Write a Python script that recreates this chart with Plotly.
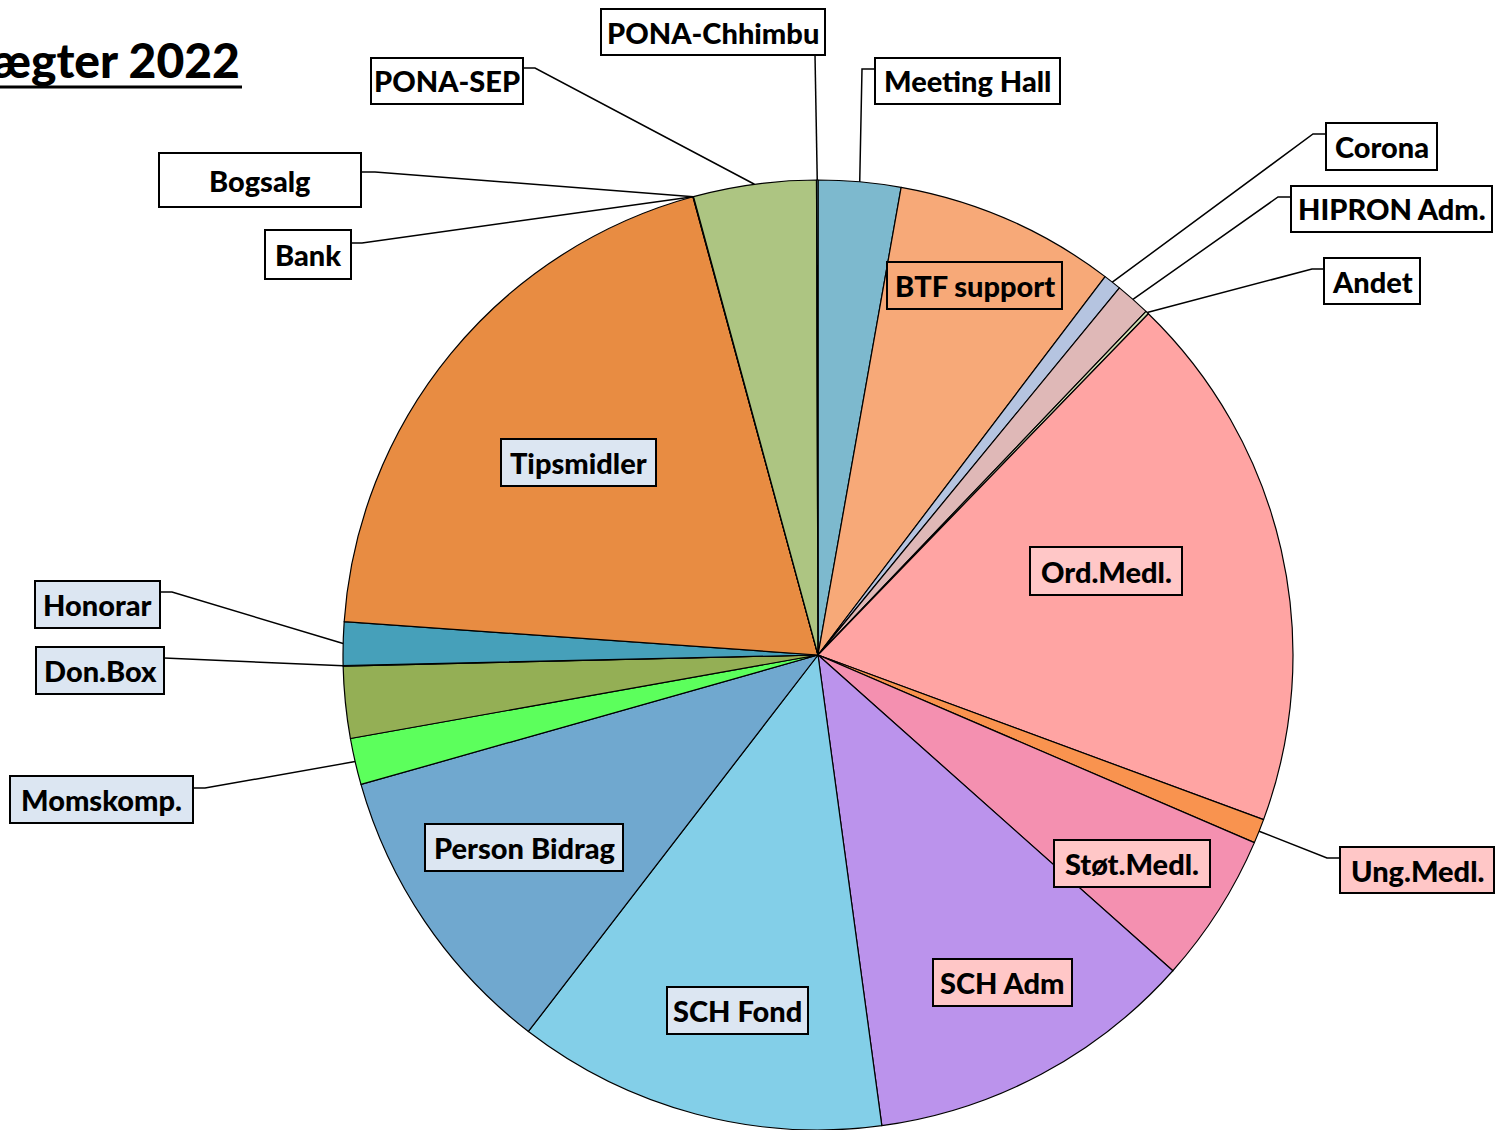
import math
import plotly.graph_objects as go

# ---------------- data ----------------
labels = ["Meeting Hall", "BTF support", "Corona", "HIPRON Adm.", "Andet",
          "Ord.Medl.", "Ung.Medl.", "Støt.Medl.", "SCH Adm", "SCH Fond",
          "Person Bidrag", "Momskomp.", "Uden etiket", "Don.Box", "Honorar",
          "Tipsmidler", "Bank", "Bogsalg", "PONA-SEP", "PONA-Chhimbu"]
values = [2.80, 7.53, 0.61, 1.19, 0.11,
          18.39, 0.83, 5.11, 11.28, 12.58,
          10.17, 1.58, 2.44, 0.02, 1.47,
          19.64, 0.01, 0.01, 4.17, 0.05]
colors = ["#7DB9CE", "#F7A978", "#B5C4E0", "#DFB8B7", "#D3E2B6",
          "#FFA4A3", "#F9934F", "#F490B0", "#BB93EC", "#83CFE8",
          "#70A8CF", "#5CFF5C", "#94AF55", "#3F9FB8", "#46A0BA",
          "#E88C42", "#E88C42", "#E88C42", "#ADC582", "#7DB9CE"]
title_text = "Indtægter 2022"

# ---------------- layout constants ----------------
W, H = 1497, 1130
CX, CY, R = 818, 655, 475
FONT = "Lato Black, Lato, sans-serif"
FS = 29

def px(x):
    return x / W

def py(y):
    return 1 - y / H

fig = go.Figure(go.Pie(
    labels=labels, values=values, sort=False, direction="clockwise",
    marker=dict(colors=colors, line=dict(color="black", width=1.2)),
    textinfo="none", showlegend=False,
    domain=dict(x=[(CX - R) / W, (CX + R) / W], y=[(H - CY - R) / H, (H - CY + R) / H]),
))

# anchor points on the pie edge (slice mid-angles from the data)
total = sum(values)
anchors = {}
cum = 0.0
for lab, v in zip(labels, values):
    mid = (cum + v / 2) / total * 2 * math.pi
    anchors[lab] = (CX + R * math.sin(mid), CY - R * math.cos(mid))
    cum += v

WHITE = "#FFFFFF"
BLUE = "#DCE6F2"
PINK = "#FFC7C7"

# label boxes: (x0, y0, x1, y1, fill, leader start, elbow)
boxes = {
    "PONA-Chhimbu": (601, 9, 825, 55, WHITE, (815, 55), None),
    "Meeting Hall": (875, 58, 1060, 104, WHITE, (875, 69), (862, 69)),
    "PONA-SEP": (371, 58, 523, 104, WHITE, (523, 68), (535, 68)),
    "Bogsalg": (159, 153, 361, 207, WHITE, (361, 172), (375, 172)),
    "Bank": (265, 230, 351, 279, WHITE, (351, 243), (362, 243)),
    "Corona": (1326, 123, 1437, 170, WHITE, (1326, 134), (1313, 134)),
    "HIPRON Adm.": (1291, 186, 1492, 232, WHITE, (1291, 197), (1278, 197)),
    "Andet": (1324, 258, 1420, 304, WHITE, (1324, 269), (1312, 269)),
    "Ung.Medl.": (1340, 847, 1494, 893, PINK, (1340, 858), (1327, 858)),
    "Honorar": (35, 581, 160, 628, BLUE, (160, 592), (172, 592)),
    "Don.Box": (36, 647, 164, 694, BLUE, (164, 658), None),
    "Momskomp.": (10, 776, 193, 823, BLUE, (193, 788), (205, 788)),
    "BTF support": (887, 262, 1062, 309, "#F7A978", None, None),
    "Tipsmidler": (501, 439, 656, 486, BLUE, None, None),
    "Ord.Medl.": (1030, 547, 1182, 595, PINK, None, None),
    "Støt.Medl.": (1054, 840, 1210, 887, PINK, None, None),
    "SCH Adm": (933, 959, 1072, 1006, PINK, None, None),
    "SCH Fond": (667, 987, 808, 1034, BLUE, None, None),
    "Person Bidrag": (425, 824, 623, 871, BLUE, None, None),
}

shapes = []
annotations = []
for lab, (x0, y0, x1, y1, fill, start, elbow) in boxes.items():
    if start is not None:
        ax, ay = anchors[lab]
        pts = [start] + ([elbow] if elbow else []) + [(ax, ay)]
        path = "M " + " L ".join(f"{px(x):.5f},{py(y):.5f}" for x, y in pts)
        shapes.append(dict(type="path", path=path, xref="paper", yref="paper",
                           line=dict(color="black", width=1.5), layer="above"))
    shapes.append(dict(type="rect", xref="paper", yref="paper",
                       x0=px(x0), x1=px(x1), y0=py(y0), y1=py(y1),
                       fillcolor=fill, line=dict(color="black", width=2), layer="above"))
    annotations.append(dict(text=f"<b>{lab}</b>", xref="paper", yref="paper",
                            x=px((x0 + x1) / 2), y=py((y0 + y1) / 2),
                            xanchor="center", yanchor="middle", showarrow=False,
                            font=dict(family=FONT, size=FS, color="black", weight=900)))

# title (partly outside the page on the left, as in the original)
annotations.append(dict(text=f"<b>{title_text}</b>", xref="paper", yref="paper",
                        x=px(242), y=py(60), xanchor="right", yanchor="middle",
                        showarrow=False,
                        font=dict(family=FONT, size=48, color="black", weight=900)))
shapes.append(dict(type="line", xref="paper", yref="paper",
                   x0=px(-5), x1=px(242), y0=py(87), y1=py(87),
                   line=dict(color="black", width=3), layer="above"))

fig.update_layout(width=W, height=H, margin=dict(l=0, r=0, t=0, b=0),
                  paper_bgcolor="white", plot_bgcolor="white",
                  shapes=shapes, annotations=annotations)

fig.write_html("out.html", config={"displayModeBar": False},
               post_script="document.body.style.margin='0';document.body.style.padding='0';")
